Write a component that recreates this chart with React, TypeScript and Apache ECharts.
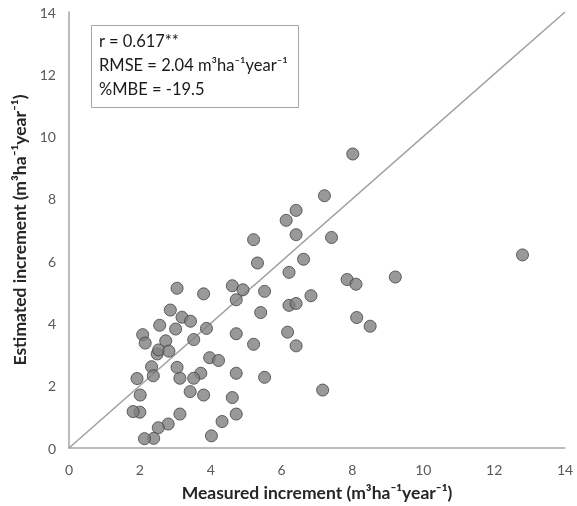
import React, { useEffect, useRef } from "react";
import * as echarts from "echarts";

const measured: number[] = [
  3.05, 3.8, 4.61, 4.91, 4.72, 5.21, 5.32, 5.52, 5.41, 5.21, 5.52, 4.72, 4.72, 4.61, 4.72, 4.32, 4.02,
  3.88, 3.52, 3.97, 4.22, 3.72, 3.52, 3.42, 3.8, 3.13, 2.8, 2.52, 2.39, 2.13, 2.0, 1.81, 2.01, 1.92,
  2.33, 2.38, 3.13, 3.05, 2.08, 2.15, 2.56, 2.49, 2.53, 2.73, 2.82, 3.01, 2.86, 3.19, 3.43,
  6.13, 6.41, 6.41, 6.62, 6.21, 6.83, 6.21, 6.41, 6.17, 6.41,
  8.01, 7.21, 7.41, 7.85, 8.1, 9.21, 12.8, 8.12, 8.5, 7.16,
];
const estimated: number[] = [
  5.13, 4.95, 5.21, 5.08, 4.76, 6.69, 5.94, 5.03, 4.35, 3.33, 2.27, 3.67, 2.4, 1.62, 1.09, 0.85, 0.39,
  3.84, 3.48, 2.9, 2.81, 2.4, 2.24, 1.81, 1.7, 1.09, 0.77, 0.65, 0.31, 0.3, 1.15, 1.17, 1.7, 2.23,
  2.61, 2.32, 2.24, 2.59, 3.64, 3.37, 3.94, 3.02, 3.15, 3.44, 3.11, 3.82, 4.43, 4.2, 4.07,
  7.31, 7.63, 6.85, 6.06, 5.64, 4.89, 4.58, 4.64, 3.72, 3.28,
  9.44, 8.1, 6.76, 5.41, 5.26, 5.49, 6.2, 4.19, 3.91, 1.86,
];
const oneToOne: number[] = [0, 14];
const statLines: string[] = [
  "r = 0.617**",
  "RMSE = 2.04 m³ha⁻¹year⁻¹",
  "%MBE = -19.5",
];
const xTitle = "Measured increment (m³ha⁻¹year⁻¹)";
const yTitle = "Estimated increment (m³ha⁻¹year⁻¹)";

const FONT = "Lato, 'Open Sans', sans-serif";

export default function App() {
  const ref = useRef<HTMLDivElement>(null);
  useEffect(() => {
    if (!ref.current) return;
    const chart = echarts.init(ref.current, undefined, { renderer: "svg" });
    const axisCommon = {
      type: "value" as const,
      min: 0,
      max: 14,
      interval: 2,
      splitLine: { show: false },
      axisTick: { show: false },
      axisLine: { show: true, lineStyle: { color: "#a6a6a6", width: 1.5 } },
      axisLabel: { color: "#595959", fontSize: 14, fontFamily: FONT },
      nameLocation: "middle" as const,
      nameTextStyle: { color: "#262626", fontSize: 17.5, fontWeight: "bold" as const, fontFamily: FONT },
    };
    chart.setOption({
      animation: false,
      textStyle: { fontFamily: FONT },
      grid: { left: 69, right: 12, top: 12, bottom: 58, containLabel: false },
      xAxis: { ...axisCommon, name: xTitle, nameGap: 35, axisLabel: { ...axisCommon.axisLabel, margin: 14 } },
      yAxis: { ...axisCommon, name: yTitle, nameGap: 41, axisLabel: { ...axisCommon.axisLabel, margin: 13 } },
      graphic: [
        {
          type: "rect",
          shape: { x: 91.5, y: 25.5, width: 207, height: 82 },
          style: { fill: "#ffffff", stroke: "#a6a6a6", lineWidth: 1 },
          z: 10,
        },
        ...statLines.map((t, i) => ({
          type: "text",
          x: 99,
          y: 32 + i * 24,
          style: { text: t, fill: "#1a1a1a", fontSize: 16.5, fontFamily: FONT },
          z: 11,
        })),
      ],
      series: [
        {
          type: "line",
          data: oneToOne.map((v) => [v, v]),
          symbol: "none",
          lineStyle: { color: "#a0a0a0", width: 1.5 },
          silent: true,
          z: 1,
        },
        {
          type: "scatter",
          data: measured.map((m, i) => [m, estimated[i]]),
          symbol: "circle",
          symbolSize: 12,
          itemStyle: { color: "#7f7f7f", borderColor: "#3f3f3f", borderWidth: 1 },
          z: 2,
        },
      ],
    });
    return () => chart.dispose();
  }, []);
  return (
    <div
      ref={ref}
      style={{ position: "fixed", left: 0, top: 0, width: 577, height: 506 }}
    />
  );
}
